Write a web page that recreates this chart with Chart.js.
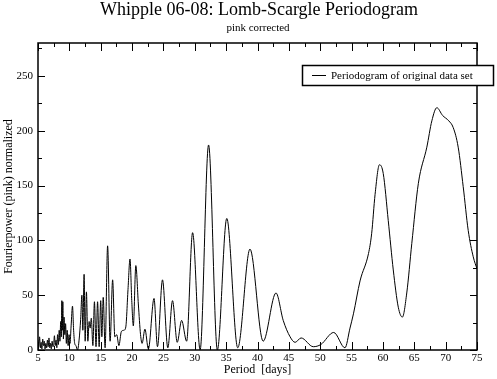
<!DOCTYPE html>
<html>
<head>
<meta charset="utf-8">
<script src="https://cdn.jsdelivr.net/npm/chart.js@4.4.1/dist/chart.umd.min.js"></script>
<style>
  body { margin: 0; background: #fff; }
  canvas { display: block; }
</style>
</head>
<body>
<canvas id="periodogram" width="497" height="379"></canvas>
<script>
// Period (days) and normalized Fourier power
const periods = [
    5.00, 5.12, 5.25, 5.38, 5.50, 5.62, 5.75, 5.88, 6.00, 6.12,
    6.25, 6.38, 6.50, 6.62, 6.75, 6.88, 7.00, 7.12, 7.25, 7.38,
    7.50, 7.62, 7.75, 7.88, 8.00, 8.12, 8.25, 8.38, 8.50, 8.62,
    8.72, 8.80, 8.88, 8.96, 9.05, 9.15, 9.28, 9.40, 9.52, 9.65,
    9.80, 9.95, 10.10, 10.28, 10.50, 10.68, 10.85, 11.05, 11.30, 11.55,
    11.80, 12.00, 12.15, 12.35, 12.52, 12.72, 12.95, 13.15, 13.32, 13.50,
    13.75, 14.00, 14.25, 14.50, 14.75, 15.00, 15.18, 15.40, 15.70, 16.10,
    16.50, 16.90, 17.25, 17.55, 17.90, 18.30, 18.70, 19.00, 19.35, 19.67,
    19.95, 20.20, 20.60, 21.00, 21.35, 21.60, 22.05, 22.60, 23.50, 24.05,
    24.85, 25.70, 26.45, 27.20, 27.90, 28.70, 29.65, 30.85, 32.20, 33.60,
    35.10, 36.85, 38.80, 40.90, 42.95, 44.10, 45.20, 46.00, 46.95, 48.90,
    50.10, 52.15, 53.95, 54.75, 55.30, 56.35, 57.70, 58.20, 58.75, 59.45,
    60.05, 60.85, 61.65, 62.45, 63.10, 63.80, 64.60, 65.65, 67.00, 67.80,
    68.60, 69.50, 70.50, 71.20, 72.00, 72.80, 73.60, 74.40, 75.00
];
const power = [
    9, 3, 12, 2, 7, 1, 10, 4, 8, 1,
    6, 2, 9, 3, 11, 2, 6, 1, 8, 3,
    5, 13, 4, 9, 2, 14, 5, 18, 8, 26,
    12, 45, 18, 44, 10, 30, 14, 24, 6, 18,
    4, 14, 6, 22, 40, 18, 6, 4, 0, 9,
    28, 50, 18, 69, 8, 53, 8, 26, 20, 29,
    4, 44, 3, 44, 3, 45, 12, 48, 2, 95,
    8, 64, 12, 14, 4, 17, 18, 21, 55, 83,
    45, 22, 77, 42, 14, 6, 19, 1, 47, 3,
    64, 2, 45, 7, 27, 8, 107, 0, 187, 0,
    120, 2, 92, 8, 52, 27, 12, 7, 11, 3,
    5, 16, 2, 20, 33, 63, 88, 106, 142, 169,
    161, 118, 73, 39, 30, 52, 97, 152, 185, 209,
    221, 214, 209, 203, 185, 149, 109, 85, 74
];

// Achsen-Ticks
const xTicks = [5, 10, 15, 20, 25, 30, 35, 40, 45, 50, 55, 60, 65, 70, 75];
const yTicks = [0, 50, 100, 150, 200, 250];

const serif = '"Liberation Serif", "Times New Roman", serif';

// Title, frame with inward ticks and the boxed legend
const decorPlugin = {
    id: 'decor',
    afterDraw(chart) {
        const { ctx, chartArea: a, scales: { x, y } } = chart;
        ctx.save();
        ctx.fillStyle = '#000';
        ctx.textAlign = 'center';
        ctx.textBaseline = 'middle';
        ctx.font = '18px ' + serif;
        ctx.fillText('Whipple 06-08: Lomb-Scargle Periodogram', 259, 10);
        ctx.font = '11px ' + serif;
        ctx.fillText('pink corrected', 258, 28);

        // frame
        ctx.strokeStyle = '#000';
        ctx.lineWidth = 1.5;
        ctx.strokeRect(a.left, a.top, a.right - a.left, a.bottom - a.top);

        // ticks (major + minor), all pointing inward
        ctx.lineWidth = 1;
        ctx.beginPath();
        xTicks.forEach((v, i) => {
            const px = Math.round(x.getPixelForValue(v)) + 0.5;
            ctx.moveTo(px, a.bottom); ctx.lineTo(px, a.bottom - 8);
            ctx.moveTo(px, a.top); ctx.lineTo(px, a.top + 8);
            if (i < xTicks.length - 1) {
                const mx = Math.round(x.getPixelForValue(v + 2.5)) + 0.5;
                ctx.moveTo(mx, a.bottom); ctx.lineTo(mx, a.bottom - 4);
                ctx.moveTo(mx, a.top); ctx.lineTo(mx, a.top + 4);
            }
        });
        yTicks.forEach(v => {
            const py = Math.round(y.getPixelForValue(v)) + 0.5;
            ctx.moveTo(a.left, py); ctx.lineTo(a.left + 7, py);
            ctx.moveTo(a.right, py); ctx.lineTo(a.right - 7, py);
            const my = Math.round(y.getPixelForValue(v + 25)) + 0.5;
            ctx.moveTo(a.left, my); ctx.lineTo(a.left + 4, my);
            ctx.moveTo(a.right, my); ctx.lineTo(a.right - 4, my);
        });
        ctx.stroke();

        // legend box
        ctx.fillStyle = '#fff';
        ctx.fillRect(302, 65, 192, 21);
        ctx.lineWidth = 1.5;
        ctx.strokeRect(302.5, 65.5, 191, 20);
        ctx.lineWidth = 1;
        ctx.beginPath();
        ctx.moveTo(312, 75.5); ctx.lineTo(326, 75.5);
        ctx.stroke();
        ctx.fillStyle = '#000';
        ctx.textAlign = 'left';
        ctx.font = '11px ' + serif;
        ctx.fillText(chart.data.datasets[0].label, 331, 76);
        ctx.restore();
    }
};

const ctx = document.getElementById('periodogram').getContext('2d');
new Chart(ctx, {
    type: 'line',
    data: {
        datasets: [{
            label: 'Periodogram of original data set',
            data: periods.map((p, i) => ({ x: p, y: power[i] })),
            borderColor: '#000',
            borderWidth: 1,
            pointRadius: 0,
            fill: false,
            cubicInterpolationMode: 'monotone'
        }]
    },
    options: {
        responsive: false,
        animation: false,
        layout: { padding: { left: 0, right: 20, top: 43, bottom: 0 } },
        plugins: {
            legend: { display: false },
            title: { display: false },
            tooltip: { enabled: false }
        },
        scales: {
            x: {
                type: 'linear',
                min: 5,
                max: 75,
                grid: { display: false, drawTicks: false },
                border: { display: false },
                afterBuildTicks: s => { s.ticks = xTicks.map(v => ({ value: v })); },
                afterFit: s => { s.height = 29; },
                ticks: {
                    color: '#000',
                    font: { family: serif, size: 11 },
                    padding: 2,
                    maxRotation: 0,
                    autoSkip: false
                },
                title: {
                    display: true,
                    text: 'Period  [days]',
                    color: '#000',
                    font: { family: serif, size: 12 },
                    padding: { top: 0, bottom: 2 }
                }
            },
            y: {
                min: 0,
                max: 280,
                grid: { display: false, drawTicks: false },
                border: { display: false },
                afterBuildTicks: s => { s.ticks = yTicks.map(v => ({ value: v })); },
                afterFit: s => { s.width = 38; },
                ticks: {
                    color: '#000',
                    font: { family: serif, size: 11 },
                    padding: 5
                },
                title: {
                    display: true,
                    text: 'Fourierpower (pink) normalized',
                    color: '#000',
                    font: { family: serif, size: 12 },
                    padding: { top: 2, bottom: 0 }
                }
            }
        }
    },
    plugins: [decorPlugin]
});
</script>
</body>
</html>
